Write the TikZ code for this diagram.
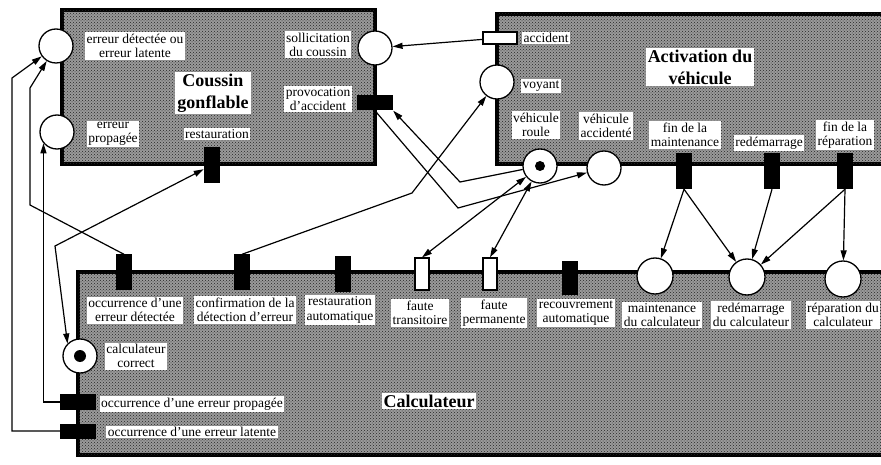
\documentclass[tikz,border=0pt]{standalone}
\usepackage{fontspec}
\setmainfont{Liberation Serif}
\usetikzlibrary{arrows.meta,patterns}
\definecolor{halftone}{HTML}{9A9A9A}
\newcommand{\lblsize}{\fontsize{13.5}{14.5}\selectfont}
\newcommand{\ttlsize}{\fontsize{18}{22}\selectfont\bfseries}
\tikzset{
  zone/.style={line width=4pt,draw=black,fill=halftone,postaction={pattern=crosshatch dots,pattern color=black!85}},
  place/.style={circle,draw,line width=1.3pt,fill=white,minimum size=34pt,inner sep=0pt},
  tok/.style={circle,fill=black,minimum size=10pt,inner sep=0pt},
  vtr/.style={fill=black,minimum width=16pt,minimum height=36pt,inner sep=0pt},
  htr/.style={fill=black,minimum width=36pt,minimum height=15pt,inner sep=0pt},
  wtr/.style={draw,line width=1.2pt,fill=white,inner sep=0pt},
  lbl/.style={fill=white,align=center,inner sep=1.5pt,font=\lblsize},
  ttl/.style={fill=white,align=center,inner sep=2pt,font=\ttlsize},
  ar/.style={-{Triangle[length=10pt,width=6pt]},line width=1.2pt},
  dar/.style={{Triangle[length=10pt,width=6pt]}-{Triangle[length=10pt,width=6pt]},line width=1.2pt}
}

\begin{document}
\begin{tikzpicture}[x=1pt,y=-1pt]
\useasboundingbox (0,0) rectangle (881,465);
\clip (0,0) rectangle (881,465);
% the three subsystems
\draw[zone] (62,10) rectangle (375,164);
\draw[zone] (497,14) rectangle (900,164);
\draw[zone] (78,272) rectangle (900,455);

\node[ttl] (nCoussin) at (213,93) {Coussin\\gonflable};
\node[ttl] (nActiv) at (700,67) {Activation du\\v\'ehicule};
\node[ttl] (nCalc) at (429,401) {Calculateur};

% labels
\node[lbl] (lDet) at (135,46) {erreur d\'etect\'ee ou\\erreur latente};
\node[lbl] (lProp) at (113,134) {erreur\\propag\'ee};
\node[lbl] (lRest) at (217,134) {restauration};
\node[lbl] (lSoll) at (318,45) {sollicitation\\du coussin};
\node[lbl] (lProvoc) at (318,99) {provocation\\d'accident};
\node[lbl] (lAccident) at (546,38) {accident};
\node[lbl] (lVoy) at (541,86) {voyant};
\node[lbl] (lRoule) at (536,125) {v\'ehicule\\roule};
\node[lbl] (lAcc) at (606,126) {v\'ehicule\\accident\'e};
\node[lbl] (lFinMaint) at (685,135) {fin de la\\maintenance};
\node[lbl] (lRedem) at (769,143) {red\'emarrage};
\node[lbl] (lFinRep) at (845,135) {fin de la\\r\'eparation};
\node[lbl] (lOccDet) at (135,310) {occurrence d'une\\erreur d\'etect\'ee};
\node[lbl] (lConfirm) at (245,310) {confirmation de la\\d\'etection d'erreur};
\node[lbl] (lRestAuto) at (340,310) {restauration\\automatique};
\node[lbl] (lFauteTr) at (420,313) {faute\\transitoire};
\node[lbl] (lFautePerm) at (494,313) {faute\\permanente};
\node[lbl] (lRecouv) at (576,313) {recouvrement\\automatique};
\node[lbl] (lMaint) at (662,315) {maintenance\\du calculateur};
\node[lbl] (lRedemC) at (751,315) {red\'emarrage\\du calculateur};
\node[lbl] (lRepar) at (843,315) {r\'eparation du\\calculateur};
\node[lbl] (lCorrect) at (136,356) {calculateur\\correct};
\node[lbl] (lOccProp) at (192,404) {occurrence d'une erreur propag\'ee};
\node[lbl] (lOccLat) at (192,432) {occurrence d'une erreur latente};

% places
\node[place] (pDet) at (56,46) {};
\node[place] (pProp) at (57,132) {};
\node[place] (pSoll) at (375,48) {};
\node[place] (pVoy) at (497,82) {};
\node[place] (pRoule) at (540,166) {};
\node[tok] (kRoule) at (pRoule) {};
\node[place] (pAcc) at (604,168) {};
\node[place,minimum size=36pt] (pMaint) at (655,276) {};
\node[place,minimum size=36pt] (pRedem) at (747,277) {};
\node[place,minimum size=36pt] (pRepar) at (843,279) {};
\node[place] (pCorrect) at (80,356) {};
\node[tok,minimum size=12pt] (kCorrect) at (pCorrect) {};

% transitions
\node[vtr] (tRest) at (212,165) {};
\node[htr] (tProvoc) at (375,103) {};
\node[wtr,minimum width=34pt,minimum height=12pt] (tAccident) at (500,38) {};
\node[vtr] (tFinMaint) at (684,171) {};
\node[vtr] (tRedem) at (772,171) {};
\node[vtr] (tFinRep) at (845,171) {};
\node[vtr,minimum height=35pt] (tOccDet) at (124,272) {};
\node[vtr,minimum height=35pt] (tConfirm) at (242,272) {};
\node[vtr] (tRestAuto) at (343,274) {};
\node[wtr,minimum width=14pt,minimum height=32pt] (tFauteTr) at (422,274) {};
\node[wtr,minimum width=14pt,minimum height=32pt] (tFautePerm) at (490,274) {};
\node[vtr,minimum height=33pt] (tRecouv) at (570,278) {};
\node[htr,minimum height=16pt] (tOccProp) at (78,402) {};
\node[htr] (tOccLat) at (78,431) {};

% bends
\coordinate (latBend) at (12,78);
\coordinate (detBend1) at (30,205);
\coordinate (detBend2) at (30,88);
\coordinate (corBend) at (55,246);
\coordinate (voyBend) at (412,193);
\coordinate (accBend) at (458,208);
\coordinate (provBend) at (460,182);

% arcs
\draw[ar] (tOccProp.west) -| (pProp.220);
\draw[ar] (tOccLat.west) -| (latBend) -- (pDet);
\draw[ar] (tOccDet.north) -- (detBend1) -- (detBend2) -- (pDet);
\draw[dar] (tRest) -- (corBend) -- (pCorrect.135);
\draw[ar] (tConfirm.north) -- (voyBend) -- (pVoy);
\draw[ar] (tProvoc.south) -- (accBend) -- (pAcc);
\draw[ar] (pRoule) -- (provBend) -- (tProvoc.south east);
\draw[dar] (pRoule) -- (tFauteTr.north);
\draw[dar] (pRoule) -- (tFautePerm.north);
\draw[ar] (tAccident) -- (pSoll);
\draw[ar] (tFinMaint.south) -- (pMaint);
\draw[ar] (tFinMaint.south) -- (pRedem);
\draw[ar] (tRedem.south) -- (pRedem);
\draw[ar] (tFinRep.south) -- (pRedem);
\draw[ar] (tFinRep.south) -- (pRepar);
\end{tikzpicture}
\end{document}
